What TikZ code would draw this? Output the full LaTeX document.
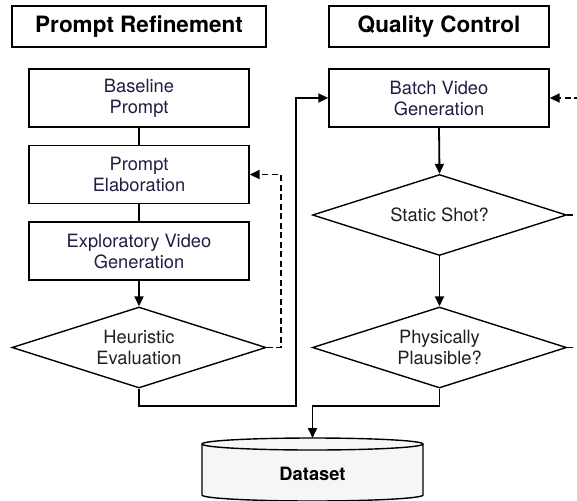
\documentclass[tikz,border=0pt]{standalone}
\usepackage{fontspec}
\setmainfont{TeX Gyre Heros}
\usetikzlibrary{shapes.geometric,arrows.meta,calc}
\definecolor{navytext}{HTML}{1E1E44}
\definecolor{cylfill}{HTML}{F6F6F6}
\tikzset{
  titlebox/.style={draw, line width=1.3pt, minimum width=#1, minimum height=41pt, inner sep=0pt, font=\fontsize{22.5}{24}\selectfont\bfseries},
  procbox/.style={draw, line width=1.4pt, minimum width=220pt, minimum height=58pt, inner sep=0pt, align=center, text=navytext, font=\fontsize{18.3}{21}\selectfont},
  decision/.style={draw, diamond, line width=1.4pt, aspect=3.1, minimum width=254pt, minimum height=81pt, inner sep=0pt, align=center, text=black!88, font=\fontsize{18.3}{21}\selectfont},
  flow/.style={line width=1.8pt},
  flowarrow/.style={line width=1.8pt, -{Triangle[length=10pt,width=9pt]}},
  loopback/.style={line width=1.8pt, dash pattern=on 6pt off 3.5pt, -{Triangle[length=10pt,width=9pt]}},
  loopout/.style={line width=1.8pt, dash pattern=on 6pt off 3.5pt},
}
\begin{document}
\begin{tikzpicture}[x=1pt,y=-1pt]
\useasboundingbox (0,0) rectangle (577,500);
\clip (0,0) rectangle (577,500);

% titles
\node[titlebox=254pt] (t1) at (139,26.5) {Prompt Refinement};
\node[titlebox=220pt] (t2) at (439,26.5) {Quality Control};

% left column
\node[procbox] (base) at (139,98) {Baseline\\Prompt};
\node[procbox] (elab) at (139,174.5) {Prompt\\Elaboration};
\node[procbox] (expl) at (139,251) {Exploratory Video\\Generation};
\node[decision] (heur) at (139,347.5) {Heuristic\\Evaluation};

% right column
\node[procbox] (batch) at (439,98) {Batch Video\\Generation};
\node[decision] (static) at (439.5,215) {Static Shot?};
\node[decision] (phys) at (439.5,347.5) {Physically\\Plausible?};

% dataset cylinder
\fill[cylfill] (202,444) -- (202,495) arc[start angle=180,end angle=360,x radius=110.5pt,y radius=6pt] -- (423,444) arc[start angle=0,end angle=180,x radius=110.5pt,y radius=6pt] -- cycle;
\draw[line width=1.4pt] (202,444) -- (202,495) arc[start angle=180,end angle=360,x radius=110.5pt,y radius=6pt] -- (423,444);
\draw[line width=1.4pt] (312.5,444) ellipse[x radius=110.5pt,y radius=6pt];
\coordinate (dstop) at (312.5,438);
\node[font=\fontsize{18.3}{20}\selectfont\bfseries] (ds) at (312.5,474) {Dataset};

% connectors left
\draw[flow] (base.south) -- (elab.north);
\draw[flow] (elab.south) -- (expl.north);
\draw[flowarrow] (expl.south) -- (heur.north);
\draw[loopback] (heur.east) -- ++(14,0) |- (elab.east);
\draw[flowarrow] (heur.south) -- ++(0,17) -| ([xshift=-32pt]batch.west) -- (batch.west);

% connectors right
\draw[flowarrow] (batch.south) -- (static.north);
\draw[flowarrow] (static.south) -- (phys.north);
\draw[flowarrow] (phys.south) -- ++(0,17) -| (dstop);
\draw[loopout] (static.east) -- ++(40,0);
\draw[loopout] (phys.east) -- ++(40,0);
\draw[loopback] ([xshift=40pt]batch.east) -- (batch.east);
\end{tikzpicture}
\end{document}
